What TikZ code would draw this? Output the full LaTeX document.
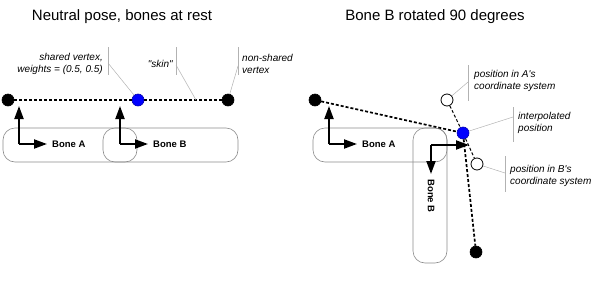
\documentclass[tikz,border=0pt]{standalone}
\usepackage{fontspec}
\setmainfont{Liberation Sans}[Ligatures=TeXOff]
\usetikzlibrary{arrows.meta}
\begin{document}
\begin{tikzpicture}[x=1pt,y=-1pt,
  vtx/.style={circle,draw=black,fill=#1,line width=0.6pt,minimum size=12pt,inner sep=0pt},
  bluevtx/.style={circle,draw=blue!70!black,fill=blue,line width=0.6pt,minimum size=12pt,inner sep=0pt},
  ghost/.style={circle,draw=black,fill=white,line width=0.8pt,minimum size=12pt,inner sep=0pt},
  skinline/.style={line width=1.7pt,dash pattern=on 3pt off 2pt},
  thinskin/.style={line width=1pt,dash pattern=on 3pt off 2pt},
  bonebox/.style={draw=black!45,line width=0.6pt,rounded corners=12pt},
  axis/.style={line width=2pt,-{Triangle[length=13pt,width=9pt]}},
  lbl/.style={font=\bfseries\fontsize{9.5}{11}\selectfont,inner sep=0pt},
  notel/.style={font=\itshape\fontsize{10}{12}\selectfont,inner sep=0pt,align=left,anchor=west},
  noter/.style={font=\itshape\fontsize{10}{12}\selectfont,inner sep=0pt,align=right,anchor=east},
  leader/.style={draw=black!30,line width=0.5pt},
  heading/.style={font=\fontsize{15}{18}\selectfont,inner sep=0pt}]
\useasboundingbox (0,0) rectangle (602,287);

% ---------- titles ----------
\node[heading] (t1) at (122,17) {Neutral pose, bones at rest};
\node[heading] (t2) at (435,17) {Bone B rotated 90 degrees};

% ---------- left: neutral pose ----------
\draw[bonebox] (3,128) rectangle (137,162);
\draw[bonebox] (103,128) rectangle (238,162);

\coordinate (oA) at (19,144);
\coordinate (oAy) at (19,106);
\coordinate (oAx) at (47,144);
\draw[axis] (oA) -- (oAy);
\draw[axis] (oA) -- (oAx);
\node[lbl,anchor=west] (bA) at (52,144) {Bone A};

\coordinate (oB) at (120,144);
\coordinate (oBy) at (120,106);
\coordinate (oBx) at (148,144);
\draw[axis] (oB) -- (oBy);
\draw[axis] (oB) -- (oBx);
\node[lbl,anchor=west] (bB) at (153,144) {Bone B};

\node[vtx=black] (L1) at (8,100) {};
\node[bluevtx] (LB) at (138,100) {};
\node[vtx=black] (L3) at (228,100) {};
\draw[skinline] (L1) -- (LB);
\draw[skinline] (LB) -- (L3);
\coordinate (skinpt) at (196,100);

% callouts
\node[noter] (n1) at (103,64) {shared vertex,\\weights = (0.5, 0.5)};
\coordinate (c1t) at (108,47); \coordinate (c1b) at (108,75); \coordinate (c1m) at (108,63);
\draw[leader] (c1t) -- (c1b);
\draw[leader] (c1m) -- (LB);

\node[noter] (n2) at (173,64) {"skin"};
\coordinate (c2t) at (176,47); \coordinate (c2b) at (176,75); \coordinate (c2m) at (176,65);
\draw[leader] (c2t) -- (c2b);
\draw[leader] (c2m) -- (skinpt);

\node[notel] (n3) at (242,64) {non-shared\\vertex};
\coordinate (c3t) at (238,47); \coordinate (c3b) at (238,75); \coordinate (c3m) at (238,66);
\draw[leader] (c3t) -- (c3b);
\draw[leader] (c3m) -- (L3);

% ---------- right: bone B rotated ----------
\draw[bonebox] (313,128) rectangle (447,162);
\draw[bonebox] (413,128) rectangle (447,263);

\coordinate (pA) at (329,144);
\coordinate (pAy) at (329,106);
\coordinate (pAx) at (357,144);
\draw[axis] (pA) -- (pAy);
\draw[axis] (pA) -- (pAx);
\node[lbl,anchor=west] (rA) at (362,144) {Bone A};

\coordinate (pB) at (431,145);
\coordinate (pBy) at (469,145);
\coordinate (pBx) at (431,174);
\draw[axis] (pB) -- (pBy);
\draw[axis] (pB) -- (pBx);
\node[lbl,rotate=-90] (rB) at (431,196) {Bone B};

\node[vtx=black] (R1) at (315,100) {};
\node[ghost] (RA) at (447,100) {};
\node[bluevtx] (RB) at (463,133) {};
\node[ghost] (RP) at (477,164) {};
\node[vtx=black] (R3) at (476,252) {};
\draw[thinskin] (RA) -- (RB);
\draw[thinskin] (RB) -- (RP);
\draw[skinline] (R1) -- (RB);
\draw[skinline] (RB) -- (R3);

% callouts
\node[notel] (n4) at (474,81) {position in A's\\coordinate system};
\coordinate (c4t) at (468,65); \coordinate (c4b) at (468,101); \coordinate (c4m) at (468,82);
\draw[leader] (c4t) -- (c4b);
\draw[leader] (c4m) -- (RA);

\node[notel] (n5) at (518,123) {interpolated\\position};
\coordinate (c5t) at (513,107); \coordinate (c5b) at (513,142); \coordinate (c5m) at (513,117);
\draw[leader] (c5t) -- (c5b);
\draw[leader] (c5m) -- (RB);

\node[notel] (n6) at (510,176) {position in B's\\coordinate system};
\coordinate (c6t) at (505,156); \coordinate (c6b) at (505,192); \coordinate (c6m) at (505,173);
\draw[leader] (c6t) -- (c6b);
\draw[leader] (c6m) -- (RP);
\end{tikzpicture}
\end{document}
